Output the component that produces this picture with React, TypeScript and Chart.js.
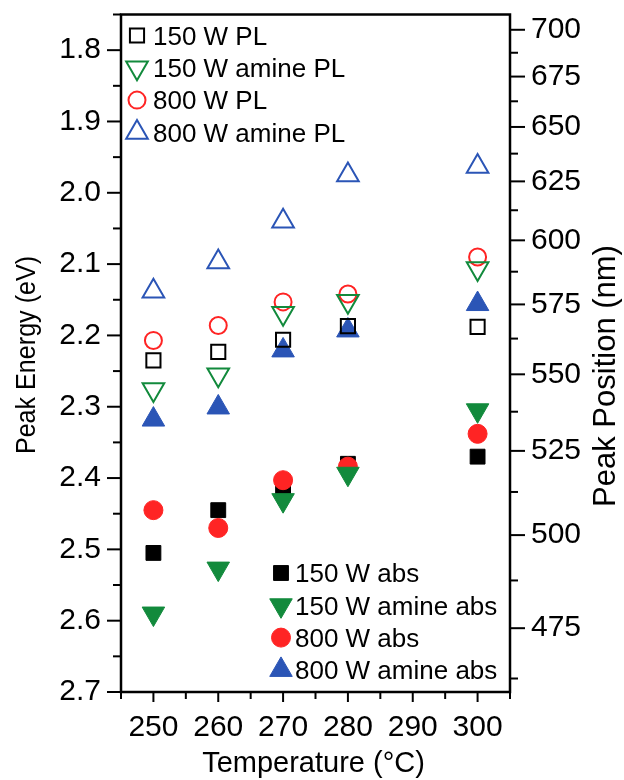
import React, { useEffect, useRef } from 'react';
import { Chart, registerables } from 'chart.js';
import { drawPoint } from 'chart.js/helpers';

Chart.register(...registerables);

// ---- data (x = temperature in °C, y = peak energy in eV) ----
const temperatures = [250, 260, 270, 280, 300];
const pl150 = [2.235, 2.223, 2.206, 2.187, 2.188];
const plAmine150 = [2.276, 2.255, 2.169, 2.152, 2.106];
const pl800 = [2.207, 2.186, 2.153, 2.142, 2.09];
const plAmine800 = [2.138, 2.097, 2.04, 1.975, 1.963];
const abs150 = [2.505, 2.445, 2.414, 2.38, 2.37];
const absAmine150 = [2.59, 2.527, 2.431, 2.394, 2.305];
const abs800 = [2.445, 2.47, 2.403, 2.384, 2.338];
const absAmine800 = [2.318, 2.301, 2.221, 2.193, 2.156];

// ---- ticks ----
const energyTicks = [1.8, 1.9, 2.0, 2.1, 2.2, 2.3, 2.4, 2.5, 2.6, 2.7];
const energyMinorTicks = [1.75, 1.85, 1.95, 2.05, 2.15, 2.25, 2.35, 2.45, 2.55, 2.65];
const positionTicks = [475, 500, 525, 550, 575, 600, 625, 650, 675, 700];
const positionMinorTicks = [462.5, 487.5, 512.5, 537.5, 562.5, 587.5, 612.5, 637.5, 662.5, 687.5];
const temperatureTicks = [250, 260, 270, 280, 290, 300];
const temperatureMinorTicks = [245, 255, 265, 275, 285, 295, 305];
const HC = 1240; // eV·nm

const BLACK = '#000000';
const GREEN = '#128a3c';
const RED = '#ff2424';
const BLUE = '#2b55b6';

const FAMILY = '"Liberation Sans", Arial, sans-serif';

export default function App() {
  const ref = useRef<HTMLCanvasElement | null>(null);

  useEffect(() => {
    if (!ref.current) return;
    const tickSize = 30;
    const legendSize = 26;

    const mk = (
      label: string,
      ys: number[],
      color: string,
      style: string,
      rotation: number,
      radius: number,
      filled: boolean,
      order: number
    ) => ({
      label,
      data: temperatures.map((t, i) => ({ x: t, y: ys[i] })),
      pointStyle: style,
      rotation,
      pointRotation: rotation,
      pointRadius: radius,
      radius,
      borderColor: color,
      backgroundColor: filled ? color : 'rgba(0,0,0,0)',
      borderWidth: filled ? 1 : 2,
      pointBorderWidth: filled ? 1 : 2,
      showLine: false,
      order,
    });

    const datasets = [
      mk('150 W PL', pl150, BLACK, 'rect', 0, 10, false, 0),
      mk('150 W amine PL', plAmine150, GREEN, 'triangle', 180, 12.5, false, 1),
      mk('800 W PL', pl800, RED, 'circle', 0, 8.5, false, 2),
      mk('800 W amine PL', plAmine800, BLUE, 'triangle', 0, 12.5, false, 3),
      mk('150 W abs', abs150, BLACK, 'rect', 0, 10.5, true, 7),
      mk('150 W amine abs', absAmine150, GREEN, 'triangle', 180, 13, true, 5),
      mk('800 W abs', abs800, RED, 'circle', 0, 9.5, true, 6),
      mk('800 W amine abs', absAmine800, BLUE, 'triangle', 0, 13, true, 4),
    ];

    const zeroPad = (s: any) => {
      s.paddingTop = 0;
      s.paddingBottom = 0;
      s.paddingLeft = 0;
      s.paddingRight = 0;
    };

    const decor = {
      id: 'decor',
      afterDraw(chart: any) {
        const { ctx, chartArea: a, scales } = chart;
        ctx.save();
        ctx.strokeStyle = '#000';
        ctx.lineCap = 'butt';
        const line = (x1: number, y1: number, x2: number, y2: number) => {
          ctx.beginPath();
          ctx.moveTo(x1, y1);
          ctx.lineTo(x2, y2);
          ctx.stroke();
        };
        ctx.lineWidth = 2;
        energyTicks.forEach((v) => {
          const y = scales.y.getPixelForValue(v);
          line(a.left - 14, y, a.left, y);
        });
        energyMinorTicks.forEach((v) => {
          const y = scales.y.getPixelForValue(v);
          line(a.left - 8, y, a.left, y);
        });
        positionTicks.forEach((nm) => {
          const y = scales.y2.getPixelForValue(HC / nm);
          line(a.right, y, a.right + 15, y);
        });
        positionMinorTicks.forEach((nm) => {
          const y = scales.y2.getPixelForValue(HC / nm);
          line(a.right, y, a.right + 8, y);
        });
        temperatureTicks.forEach((v) => {
          const x = scales.x.getPixelForValue(v);
          line(x, a.bottom, x, a.bottom + 10);
        });
        temperatureMinorTicks.forEach((v) => {
          const x = scales.x.getPixelForValue(v);
          line(x, a.bottom, x, a.bottom + 7);
        });
        ctx.lineWidth = 2.5;
        ctx.strokeRect(a.left, a.top, a.right - a.left, a.bottom - a.top);

        // axis titles
        ctx.fillStyle = '#000';
        ctx.textAlign = 'center';
        ctx.textBaseline = 'alphabetic';
        const title = (text: string, x: number, y: number, rot: number, size: number, sx: number) => {
          ctx.save();
          ctx.translate(x, y);
          ctx.rotate(rot);
          ctx.scale(sx, 1);
          ctx.font = `${size}px ${FAMILY}`;
          ctx.fillText(text, 0, 0);
          ctx.restore();
        };
        title('Temperature (°C)', (a.left + a.right) / 2 - 2, 772, 0, 29, 1);
        title('Peak Energy (eV)', 35, 355, -Math.PI / 2, 27, 0.93);
        title('Peak Position (nm)', 615, 376, -Math.PI / 2, 31, 1);

        // legends
        const drawLegend = (items: any[], mx: number, tx: number, y0: number, dy: number) => {
          items.forEach((ds, i) => {
            const y = y0 + i * dy;
            ctx.save();
            ctx.fillStyle = ds.backgroundColor;
            ctx.strokeStyle = ds.borderColor;
            ctx.lineWidth = ds.borderWidth;
            drawPoint(ctx, { pointStyle: ds.pointStyle, rotation: ds.rotation, radius: ds.pointRadius, borderWidth: ds.borderWidth }, mx, y);
            ctx.restore();
            ctx.fillStyle = '#000';
            ctx.textAlign = 'left';
            ctx.textBaseline = 'alphabetic';
            ctx.font = `${legendSize}px ${FAMILY}`;
            ctx.fillText(ds.label, tx, y + 0.36 * legendSize);
          });
        };
        const dsAll = chart.data.datasets;
        drawLegend(dsAll.slice(0, 4), 137, 153, 35.5, 32.3);
        drawLegend(dsAll.slice(4, 8), 281, 295, 573, 32.3);
        ctx.restore();
      },
    };

    const tickFont = { family: FAMILY, size: tickSize };

    const chart = new Chart(ref.current, {
      type: 'scatter',
      data: { datasets: datasets as any },
      options: {
        responsive: false,
        animation: false,
        events: [],
        layout: { padding: { top: 14, left: 0, right: 0, bottom: 0 } },
        plugins: { legend: { display: false }, tooltip: { enabled: false } },
        scales: {
          x: {
            type: 'linear',
            position: 'bottom',
            min: 245,
            max: 305,
            grid: { display: false, drawTicks: false },
            border: { display: false },
            afterBuildTicks: (s: any) => {
              s.ticks = temperatureTicks.map((v) => ({ value: v }));
            },
            ticks: {
              color: '#000',
              font: tickFont,
              padding: 36 - 0.6 * tickSize,
              autoSkip: false,
              maxRotation: 0,
              callback: (v: any) => String(v),
            },
            afterFit: (s: any) => {
              s.height = 88;
              zeroPad(s);
            },
          },
          y: {
            type: 'linear',
            position: 'left',
            reverse: true,
            min: 1.75,
            max: 2.7,
            grid: { display: false, drawTicks: false },
            border: { display: false },
            afterBuildTicks: (s: any) => {
              s.ticks = energyTicks.map((v) => ({ value: v }));
            },
            ticks: {
              color: '#000',
              font: tickFont,
              padding: 20,
              autoSkip: false,
              callback: (v: any) => Number(v).toFixed(1),
            },
            afterFit: (s: any) => {
              s.width = 121;
              zeroPad(s);
            },
          },
          y2: {
            type: 'linear',
            position: 'right',
            reverse: true,
            min: 1.75,
            max: 2.7,
            grid: { display: false, drawTicks: false },
            border: { display: false },
            afterBuildTicks: (s: any) => {
              s.ticks = positionTicks.map((nm) => ({ value: HC / nm }));
            },
            ticks: {
              color: '#000',
              font: tickFont,
              padding: 21,
              autoSkip: false,
              callback: (v: any) => String(Math.round(HC / Number(v))),
            },
            afterFit: (s: any) => {
              s.width = 114;
              zeroPad(s);
            },
          },
        },
      },
      plugins: [decor],
    } as any);

    return () => chart.destroy();
  }, []);

  return (
    <div style={{ position: 'fixed', left: 0, top: 0, width: 624, height: 780, background: '#fff' }}>
      <canvas ref={ref} width={624} height={780} style={{ display: 'block', width: 624, height: 780 }} />
    </div>
  );
}
